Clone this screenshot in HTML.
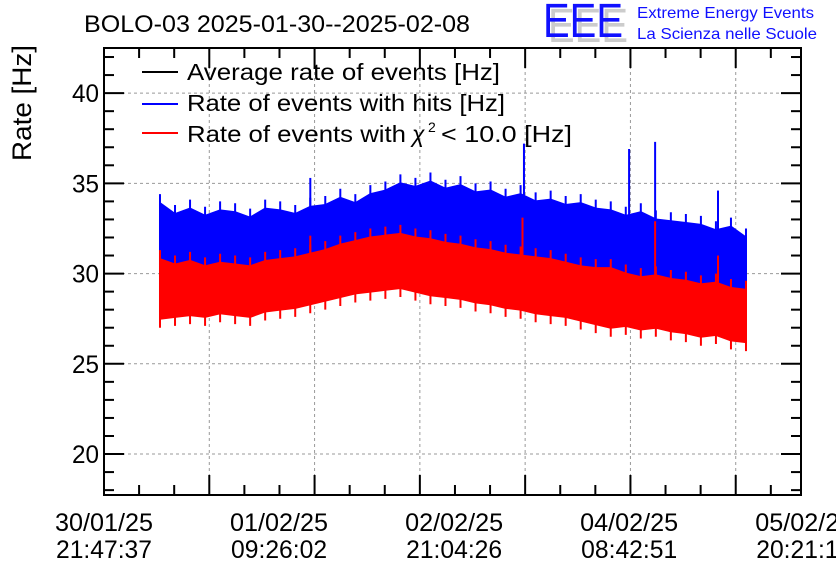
<!DOCTYPE html>
<html><head><meta charset="utf-8"><style>
body{margin:0;background:#fff;}
svg{display:block;font-family:"Liberation Sans",sans-serif;}
</style></head><body>
<svg id="c" width="836" height="572" viewBox="0 0 836 572">
<text x="84" y="32" font-size="24" textLength="386" lengthAdjust="spacingAndGlyphs">BOLO-03 2025-01-30--2025-02-08</text>
<g>
<text x="548" y="42" font-size="48" fill="#ccc" textLength="80" lengthAdjust="spacingAndGlyphs">EEE</text>
<text x="543" y="37" font-size="48" fill="#1010ff" textLength="80" lengthAdjust="spacingAndGlyphs">EEE</text>
<text x="637" y="18" font-size="16" fill="#1010ff" textLength="177" lengthAdjust="spacingAndGlyphs">Extreme Energy Events</text>
<text x="637" y="39" font-size="16" fill="#1010ff" textLength="180" lengthAdjust="spacingAndGlyphs">La Scienza nelle Scuole</text>
</g>
<text transform="translate(31,103) rotate(-90)" text-anchor="middle" font-size="27" textLength="116" lengthAdjust="spacingAndGlyphs">Rate [Hz]</text>
<g id="grid"></g>
<g id="data"></g>
<g id="axes"></g>
<g font-size="23">
<line x1="142" y1="72" x2="178" y2="72" stroke="#000" stroke-width="2"/>
<text x="187" y="80" textLength="313" lengthAdjust="spacingAndGlyphs">Average rate of events [Hz]</text>
<line x1="142" y1="104" x2="178" y2="104" stroke="#00f" stroke-width="2"/>
<text x="187" y="111" textLength="318" lengthAdjust="spacingAndGlyphs">Rate of events with hits [Hz]</text>
<line x1="142" y1="133" x2="178" y2="133" stroke="#f00" stroke-width="2"/>
<g>
<text x="187" y="142" textLength="219" lengthAdjust="spacingAndGlyphs">Rate of events with</text>
<text x="412" y="142" font-style="italic">χ</text>
<text x="428" y="132" font-size="14">2</text>
<text x="441" y="142" textLength="131" lengthAdjust="spacingAndGlyphs">&lt; 10.0 [Hz]</text>
</g>
</g>
</svg>
<script>
const yTicks=[20,25,30,35,40];
const xTickLabels=[["30/01/25","21:47:37"],["01/02/25","09:26:02"],["02/02/25","21:04:26"],["04/02/25","08:42:51"],["05/02/25","20:21:16"]];
const xLabelHours=[0,35.64,71.28,106.92,142.56];
const binStart=11.4, binEnd=130.7;
const blueHi=[33.9,33.3,33.6,33.2,33.5,33.4,33.1,33.6,33.5,33.3,33.7,33.8,34.2,33.9,34.4,34.6,35.0,34.8,35.1,34.7,34.9,34.5,34.6,34.2,34.4,34.0,34.1,33.8,33.9,33.6,33.5,33.2,33.4,33.0,32.9,32.8,32.7,32.4,32.6,32.0];
const blueLo=[30.3,30.1,30.4,30.2,30.3,30.1,30.2,30.4,30.3,30.5,30.6,30.8,31.0,31.3,31.5,31.6,31.8,31.6,31.5,31.4,31.2,31.1,31.0,30.9,30.8,30.6,30.5,30.4,30.2,30.1,30.0,29.8,29.6,29.7,29.5,29.4,29.2,29.3,29.1,29.0];
const redHi=[30.8,30.5,30.7,30.4,30.6,30.5,30.4,30.7,30.8,30.9,31.1,31.3,31.6,31.8,32.0,32.1,32.2,32.0,31.9,31.7,31.6,31.4,31.3,31.1,31.0,30.9,30.8,30.6,30.4,30.3,30.3,30.0,29.8,29.9,29.7,29.6,29.4,29.5,29.2,29.1];
const redLo=[27.5,27.6,27.7,27.6,27.8,27.7,27.6,27.9,28.0,28.1,28.3,28.5,28.7,28.9,29.0,29.1,29.2,29.0,28.8,28.7,28.6,28.4,28.3,28.1,28.0,27.8,27.7,27.6,27.4,27.2,27.0,27.1,26.9,27.0,26.8,26.7,26.5,26.6,26.3,26.2];
const blueSpikeHours=[42,85.5,106.9,112.2,125];
const blueSpikeVals=[35.3,37.2,36.9,37.3,34.6];
const redSpikeHours=[42,85.2,112.2,125];
const redSpikeVals=[32.1,33.1,32.9,31.0];

const L=104,R=801,T=48,B=495,yMin=17.73,yMax=42.5,hMax=141.9;
const X=h=>L+h/hMax*(R-L);
const Y=v=>T+(yMax-v)/(yMax-yMin)*(B-T);
const NS="http://www.w3.org/2000/svg";
function mk(p,tag,a){const e=document.createElementNS(NS,tag);for(const k in a)e.setAttribute(k,a[k]);p.appendChild(e);return e;}
const grid=document.getElementById('grid'),data=document.getElementById('data'),axes=document.getElementById('axes');
const majorStep=(R-L)/6.62;
for(let i=1;i<7;i++){const x=L+i*majorStep;if(x>=R)break;
 const g=mk(grid,'line',{x1:x,x2:x,y1:T,y2:B,stroke:'#999','stroke-dasharray':'3,3','stroke-width':1});
 
 }
yTicks.forEach(v=>{const g=mk(grid,'line',{x1:L,x2:R,y1:Y(v),y2:Y(v),stroke:'#999','stroke-dasharray':'3,3','stroke-width':1});
 
 });
function band(hi,lo,col,name){
 const n=hi.length,pts=[];
 for(let i=0;i<n;i++){const h=binStart+(binEnd-binStart)*i/(n-1);pts.push(X(h)+','+Y(hi[i]));}
 for(let i=n-1;i>=0;i--){const h=binStart+(binEnd-binStart)*i/(n-1);pts.push(X(h)+','+Y(lo[i]));}
 const p=mk(data,'polygon',{points:pts.join(' '),fill:col,stroke:col,'stroke-width':2,'stroke-linejoin':'miter'});
 
 
 for(let i=0;i<n;i++){const h=binStart+(binEnd-binStart)*i/(n-1);
  const s=mk(data,'line',{x1:X(h),x2:X(h),y1:Y(hi[i]+0.5),y2:Y(lo[i]-0.5),stroke:col,'stroke-width':2});
  
  }
}
function spikes(hs,vs,base,col,name){hs.forEach((h,i)=>{
 const s=mk(data,'line',{x1:X(h),x2:X(h),y1:Y(vs[i]),y2:Y(base),stroke:col,'stroke-width':2});
 
 });}
band(blueHi,blueLo,'#0000ff','hits-series');
spikes(blueSpikeHours,blueSpikeVals,32,'#0000ff','hits-spike');
band(redHi,redLo,'#ff0000','chi2-series');
spikes(redSpikeHours,redSpikeVals,29.5,'#ff0000','chi2-spike');
const fr=mk(axes,'rect',{x:L,y:T,width:R-L,height:B-T,fill:'none',stroke:'#000','stroke-width':2});


for(let v=18;v<=42;v++){const major=v%5==0,len=major?20:10;
 mk(axes,'line',{x1:L,x2:L+len,y1:Y(v),y2:Y(v),stroke:'#000','stroke-width':2});
 mk(axes,'line',{x1:R-len,x2:R,y1:Y(v),y2:Y(v),stroke:'#000','stroke-width':2});}
yTicks.forEach(v=>{const t=mk(axes,'text',{x:L-5,y:Y(v)+9,'text-anchor':'end','font-size':25,textLength:27,lengthAdjust:'spacingAndGlyphs'});t.textContent=v;
 
 });
for(let i=0;i<=7*3;i++){const x=L+i*majorStep/3;if(x>R)break;const len=i%3==0?20:10;
 mk(axes,'line',{x1:x,x2:x,y1:B,y2:B-len,stroke:'#000','stroke-width':2});
 mk(axes,'line',{x1:x,x2:x,y1:T,y2:T+len,stroke:'#000','stroke-width':2});}
xTickLabels.forEach((l,i)=>{const x=X(xLabelHours[i]);
 const t=mk(axes,'text',{x:x,y:531,'text-anchor':'middle','font-size':25,textLength:98,lengthAdjust:'spacingAndGlyphs'});t.textContent=l[0];
 
 
 const t2=mk(axes,'text',{x:x,y:558,'text-anchor':'middle','font-size':25,textLength:96,lengthAdjust:'spacingAndGlyphs'});t2.textContent=l[1];
 
 });
</script>
</body></html>
